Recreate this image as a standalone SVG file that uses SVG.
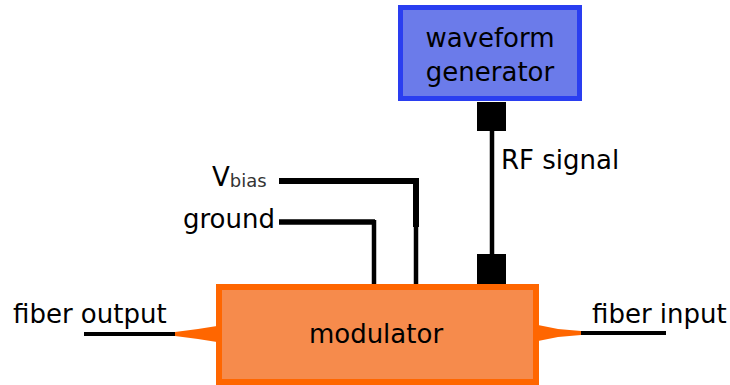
<svg xmlns="http://www.w3.org/2000/svg" width="730" height="385" viewBox="0 0 730 385">
<style>
text{font-family:"DejaVu Sans","Liberation Sans",sans-serif;font-size:26px;fill:#000}
.wire{fill:none;stroke:#000;stroke-linecap:butt;stroke-linejoin:miter}
.taper{fill:#ff6600}
</style>
<rect width="730" height="385" fill="#fff"/>
<g id="connectors">
  <path class="wire" stroke-width="4.5" d="M492,110 V270"/>
  <rect x="477" y="102" width="29" height="29" fill="#000"/>
  <rect x="477" y="254" width="29" height="30" fill="#000"/>
  <path class="wire" stroke-width="6" d="M279,181 H416 V227"/>
  <path class="wire" stroke-width="4.5" d="M416,225 V285"/>
  <path class="wire" stroke-width="5.5" d="M279,222 H375"/>
  <path class="wire" stroke-width="4.5" d="M374,220 V285"/>
  <path class="wire" stroke-width="4" d="M84,334 H176"/>
  <polygon class="taper" points="175,332 198,329 217,326 217,342 198,339 175,336"/>
  <path class="wire" stroke-width="4" d="M579,333 H666"/>
  <polygon class="taper" points="538,325 558,329 581,331 581,335 558,337 538,341"/>
</g>
<g id="waveform-generator">
  <rect x="400.5" y="7.5" width="179" height="91" fill="#6b7bea" stroke="#2a3ef0" stroke-width="5"/>
  <text x="490" y="47" text-anchor="middle">waveform</text>
  <text x="490" y="81" text-anchor="middle">generator</text>
</g>
<g id="modulator">
  <rect x="219" y="287" width="317" height="95" fill="#f68b4c" stroke="#ff6600" stroke-width="6"/>
  <text x="376" y="343" text-anchor="middle">modulator</text>
</g>
<g id="labels">
  <text x="501" y="169">RF signal</text>
  <text x="212" y="186">V<tspan font-size="18" fill="#333" dy="1">bias</tspan></text>
  <text x="183" y="228">ground</text>
  <text x="13" y="323">fiber output</text>
  <text x="592" y="323">fiber input</text>
</g>
</svg>
